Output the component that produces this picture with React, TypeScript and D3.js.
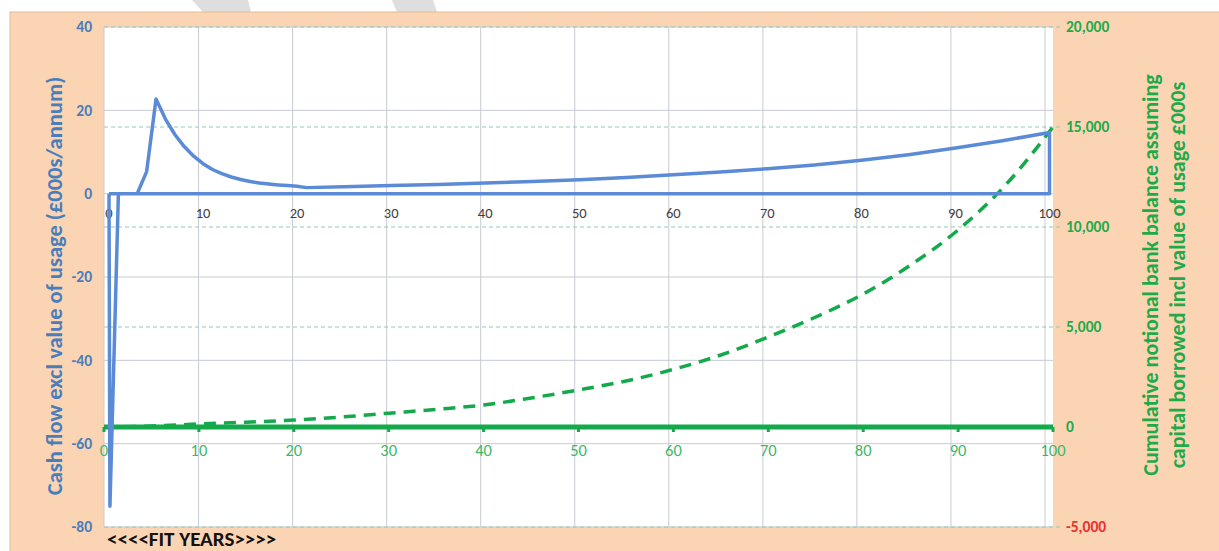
import React from "react";
import * as d3 from "d3";

const cashYears = [0, 0.1, 1, 2, 3, 4, 5, 6, 7, 8, 9, 10, 11, 12, 13, 14, 15, 16, 17, 18, 19, 20, 21, 25, 30, 35, 40, 45, 50, 55, 60, 65, 70, 75, 80, 85, 90, 95, 100, 100, 0];
const cashFlow = [0, -75, 0, 0, 0, 5.3, 22.7, 17.9, 14.2, 11.3, 9.0, 7.2, 5.8, 4.8, 4.0, 3.4, 2.9, 2.55, 2.3, 2.1, 1.95, 1.8, 1.45, 1.65, 1.95, 2.2, 2.55, 2.9, 3.35, 3.9, 4.55, 5.2, 6.0, 6.9, 8.0, 9.35, 10.95, 12.7, 14.7, 0, 0];

const bankYears = [0, 5, 10, 15, 20, 25, 30, 35, 40, 45, 50, 55, 60, 65, 70, 75, 80, 85, 90, 95, 100];
const bankBalance = [0, 50, 150, 240, 350, 500, 690, 880, 1100, 1450, 1850, 2300, 2880, 3600, 4500, 5500, 6650, 8100, 9850, 12100, 15000];

const xTicks = [0, 10, 20, 30, 40, 50, 60, 70, 80, 90, 100];
const leftTicks = [-80, -60, -40, -20, 0, 20, 40];
const rightTicks = [-5000, 0, 5000, 10000, 15000, 20000];

const leftTitle = "Cash flow excl value of usage (£000s/annum)";
const rightTitle1 = "Cumulative notional bank balance assuming";
const rightTitle2 = "capital borrowed incl value of usage £000s";
const footer = "<<<<FIT YEARS>>>>";

const FONT = "Carlito, Lato, 'Open Sans', sans-serif";
const BLUE = "#5b8bd6";
const GREEN = "#14a94b";

export default function App() {
  const top = 27, bottom = 527, left = 104, right = 1053;
  const xGrid = d3.scaleLinear().domain([0, 100]).range([104.5, 1045]);
  const xP = d3.scaleLinear().domain([0, 100]).range([109, 1049.5]);
  const xS = d3.scaleLinear().domain([0, 100]).range([104, 1053]);
  const yL = d3.scaleLinear().domain([-80, 40]).range([bottom, top]);
  const yR = d3.scaleLinear().domain([-5000, 20000]).range([bottom, top]);
  const fmt = (v: number) => d3.format(",")(v).replace("\u2212", "-");

  const cashPts: [number, number][] = cashYears.map((y, i) => [y, cashFlow[i]]);
  const bankPts: [number, number][] = bankYears.map((y, i) => [y, bankBalance[i]]);
  const cashLine = d3.line<[number, number]>().x(d => xP(d[0])).y(d => yL(d[1]));
  const bankLine = d3.line<[number, number]>().x(d => xS(d[0])).y(d => yR(d[1])).curve(d3.curveMonotoneX);

  return (
    <svg width={1219} height={551} style={{ position: "absolute", left: 0, top: 0, background: "#fff" }} fontFamily={FONT}>
      <polygon points="192,0 248,0 251,12 203,12" fill="#dedede" />
      <polygon points="392,0 433,0 437,12 397,12" fill="#dedede" />
      <rect x={10} y={12} width={1219} height={560} fill="#fbd4b4" stroke="#e3bc9c" strokeWidth={1} />
      <rect x={left} y={top} width={right - left} height={bottom - top} fill="#ffffff" />

      {/* vertical gridlines */}
      {xTicks.filter(t => t > 0).map(t => (
        <line key={"vg" + t} x1={xGrid(t)} x2={xGrid(t)} y1={top} y2={bottom} stroke="#c8cbd3" strokeWidth={1} />
      ))}
      {/* horizontal gridlines left axis */}
      {leftTicks.map(t => (
        <line key={"hg" + t} x1={left} x2={right} y1={yL(t)} y2={yL(t)} stroke="#c8cbd3" strokeWidth={1} />
      ))}
      {/* right axis dashed gridlines */}
      {rightTicks.filter(t => t !== 0).map(t => (
        <line key={"rg" + t} x1={left} x2={right + 10} y1={yR(t)} y2={yR(t)} stroke="#93c9b2" strokeWidth={1.2} strokeDasharray="4 3" />
      ))}
      <line x1={left} x2={left} y1={top} y2={bottom} stroke="#c8cbd3" strokeWidth={1} />

      {/* primary x labels */}
      {xTicks.map(t => (
        <text key={"px" + t} x={xP(t)} y={218} textAnchor="middle" fontSize={14.5} fill="#404040">{t}</text>
      ))}

      {/* secondary axis line at 0 */}
      <line x1={xS(0)} x2={xS(100)} y1={yR(0)} y2={yR(0)} stroke={GREEN} strokeWidth={5} />
      {xTicks.map(t => (
        <line key={"st" + t} x1={xS(t)} x2={xS(t)} y1={yR(0)} y2={yR(0) + 5} stroke={GREEN} strokeWidth={3} />
      ))}
      {xTicks.map(t => (
        <text key={"sx" + t} x={xS(t)} y={456} textAnchor="middle" fontSize={16.5} fill="#3db865">{t}</text>
      ))}

      {/* series */}
      <path d={bankLine(bankPts) || ""} fill="none" stroke={GREEN} strokeWidth={3.5} strokeDasharray="12 8" />
      <path d={cashLine(cashPts) || ""} fill="none" stroke={BLUE} strokeWidth={3.5} strokeLinejoin="round" />

      {/* left axis labels */}
      {leftTicks.map(t => (
        <text key={"lt" + t} x={92} y={yL(t)} dy="0.35em" textAnchor="end" fontSize={15.5} fontWeight="bold" fill="#4a7ebb">{fmt(t)}</text>
      ))}
      {/* right axis labels */}
      {rightTicks.map(t => (
        <text key={"rt" + t} x={1066} y={yR(t)} dy="0.35em" textAnchor="start" fontSize={15.5} fontWeight="bold" fill={t < 0 ? "#e8312f" : "#1faa4a"}>{fmt(t)}</text>
      ))}

      {/* titles */}
      <text transform="translate(62,286) rotate(-90)" textAnchor="middle" fontSize={22.5} fontWeight="bold" fill="#4a7ebb">{leftTitle}</text>
      <text transform="translate(1158,275) rotate(-90)" textAnchor="middle" fontSize={22} fontWeight="bold" fill="#1faa4a">{rightTitle1}</text>
      <text transform="translate(1185,275) rotate(-90)" textAnchor="middle" fontSize={22} fontWeight="bold" fill="#1faa4a">{rightTitle2}</text>

      <text x={107} y={546} fontSize={21} fontWeight="bold" fill="#111">{footer}</text>
    </svg>
  );
}
